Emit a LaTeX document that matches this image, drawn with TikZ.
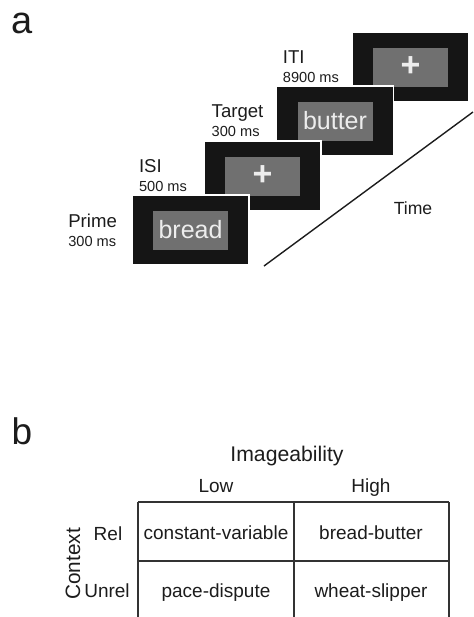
\documentclass[tikz,border=0pt]{standalone}
\usepackage{fontspec}
\setmainfont{Liberation Sans}
\usetikzlibrary{positioning}

\definecolor{scrblack}{HTML}{151515}
\definecolor{scrgray}{HTML}{707070}
\definecolor{ink}{HTML}{1c1c1c}
\definecolor{gridgray}{HTML}{333333}
\newcommand{\durtext}[1]{{\fontsize{7.3}{9}\selectfont #1}}

\begin{document}
\begin{tikzpicture}[x=0.5pt, y=-0.5pt, inner sep=0pt, text=ink,
    screen/.style={rectangle, fill=scrblack, draw=white, line width=0.7pt, minimum width=58.5pt, minimum height=35pt},
    panel/.style={rectangle, fill=scrgray, minimum width=37.5pt, minimum height=19.5pt, text=white!93!black, font=\fontsize{12.5}{14}\selectfont},
    fix/.style={text=white!93!black, font=\fontsize{17}{17}\selectfont\bfseries},
    cue/.style={align=left, font=\fontsize{9.3}{9.5}\selectfont},
    lbl/.style={font=\fontsize{9.5}{11}\selectfont, anchor=base},
    grid/.style={draw=gridgray, line width=0.6pt}]

    \useasboundingbox (0,0) rectangle (474,617);

    \node[font=\fontsize{19}{19}\selectfont] (pa) at (22,23) {a};

    \node[screen] (S4) at (410.5,67) {};
    \node[panel] (P4) at (S4) {};
    \node[fix] (X4) at (P4) {+};

    \node[screen] (S3) at (335,121) {};
    \node[panel] (P3) at (S3) {butter};

    \node[screen] (S2) at (262.5,176) {};
    \node[panel] (P2) at (S2) {};
    \node[fix] (X2) at (P2) {+};

    \node[screen] (S1) at (190.5,230) {};
    \node[panel] (P1) at (S1) {bread};

    \node[cue, left=7pt of S1] (L1) {Prime\\\durtext{300 ms}};
    \node[cue, left=8pt of S2] (L2) {ISI\\\durtext{500 ms}};
    \node[cue, left=6pt of S3] (L3) {Target\\\durtext{300 ms}};
    \node[cue, left=6pt of S4] (L4) {ITI\\\durtext{8900 ms}};

    \coordinate (t0) at (264,266);
    \coordinate (t1) at (473,112);
    \draw[line width=0.7pt, draw=ink] (t0) -- (t1);
    \node[font=\fontsize{8.8}{10}\selectfont] (time) at (413,208) {Time};

    \node[font=\fontsize{18.5}{19}\selectfont] (pb) at (22,431) {b};

    \node[lbl, font=\fontsize{10.6}{12}\selectfont] (imag) at (287,461) {Imageability};
    \node[lbl] (low) at (216,492) {Low};
    \node[lbl] (high) at (371,492) {High};
    \node[lbl] (rel) at (108,540) {Rel};
    \node[lbl] (unrel) at (107,597) {Unrel};
    \node[lbl, font=\fontsize{10.4}{12}\selectfont, rotate=90] (ctx) at (80,564) {Context};

    \node[lbl] (c11) at (216,539) {constant-variable};
    \node[lbl] (c12) at (371,539) {bread-butter};
    \node[lbl] (c21) at (216,597) {pace-dispute};
    \node[lbl] (c22) at (371,597) {wheat-slipper};

    \coordinate (TL) at (138,502);
    \coordinate (TM) at (294,502);
    \coordinate (TR) at (449,502);
    \coordinate (ML) at (138,561);
    \coordinate (MR) at (449,561);
    \coordinate (BL) at (138,617);
    \coordinate (BM) at (294,617);
    \coordinate (BR) at (449,617);
    \draw[grid] (TL) -- (TR) (ML) -- (MR) (TL) -- (BL) (TM) -- (BM) (TR) -- (BR);

\end{tikzpicture}
\end{document}
